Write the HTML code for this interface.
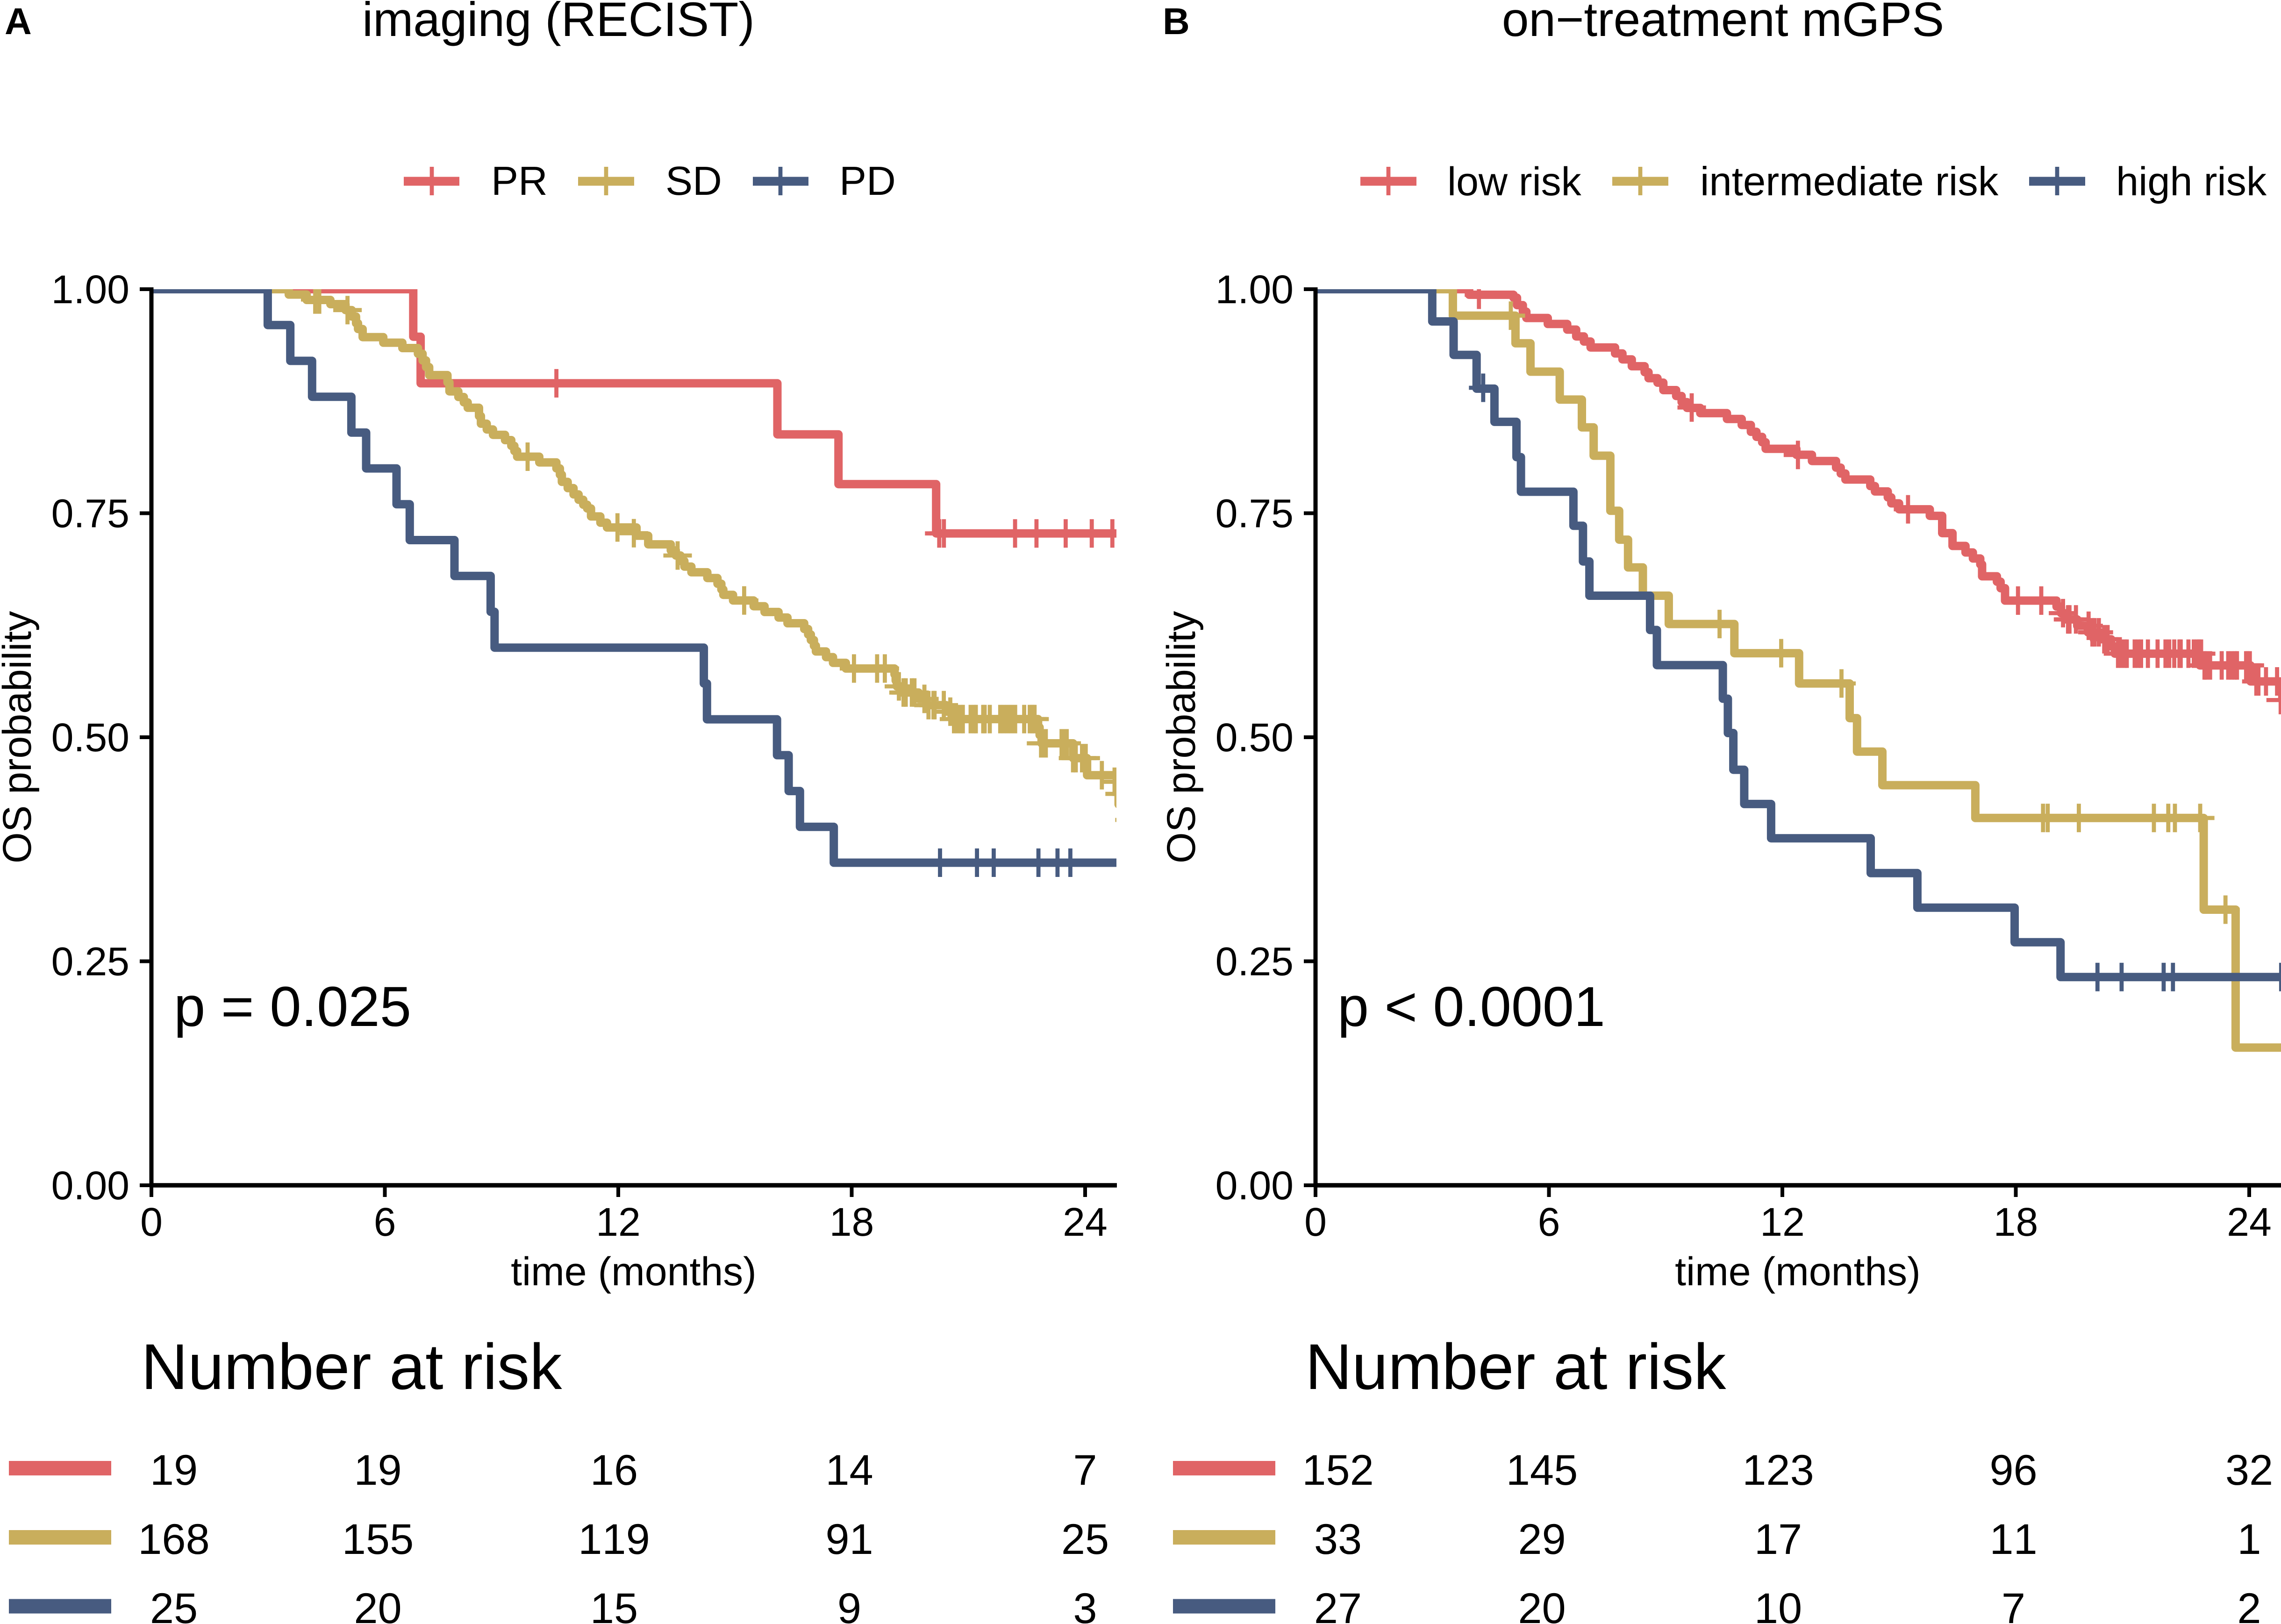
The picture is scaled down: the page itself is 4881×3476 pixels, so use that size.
<!DOCTYPE html>
<html lang="en">
<head>
<meta charset="utf-8">
<title>Overall survival by RECIST and on-treatment mGPS</title>
<style>
html,body{margin:0;padding:0;background:#fff;}
svg{display:block;font-family:"Liberation Sans",Arial,sans-serif;fill:#000;font-kerning:none;text-rendering:geometricPrecision;}
</style>
</head>
<body>
<svg id="figure" xmlns="http://www.w3.org/2000/svg" width="4881" height="3476" viewBox="0 0 4881 3476">
  <rect x="0" y="0" width="4881" height="3476" fill="#ffffff"/>
  <defs>
    <clipPath id="clip-a"><rect x="324" y="619" width="2065" height="1918"/></clipPath>
    <clipPath id="clip-b"><rect x="2815" y="619" width="2066" height="1918"/></clipPath>
  </defs>

  <g id="panel-a">
    <text x="10" y="73" font-size="80" font-weight="bold">A</text>
    <text x="1195" y="77" font-size="103.5" text-anchor="middle">imaging (RECIST)</text>
    <g>
      <g>
        <path d="M864 388H983" stroke="#E06466" stroke-width="19" fill="none"/>
        <path d="M924 357V418" stroke="#E06466" stroke-width="8.7" fill="none"/>
        <text x="1051" y="417" font-size="87">PR</text>
      </g>
      <g>
        <path d="M1237 388H1357" stroke="#C9AE5C" stroke-width="19" fill="none"/>
        <path d="M1297 357V418" stroke="#C9AE5C" stroke-width="8.7" fill="none"/>
        <text x="1424" y="417" font-size="87">SD</text>
      </g>
      <g>
        <path d="M1611 388H1730" stroke="#475B80" stroke-width="19" fill="none"/>
        <path d="M1670 357V418" stroke="#475B80" stroke-width="8.7" fill="none"/>
        <text x="1796" y="417" font-size="87">PD</text>
      </g>
    </g>
    <g id="plot-a"></g>
    <text x="372" y="2196" font-size="121">p = 0.025</text>
    <text transform="translate(66 1578) rotate(-90)" font-size="86" text-anchor="middle">OS probability</text>
    <text x="1356" y="2751" font-size="86" text-anchor="middle">time (months)</text>
    <text x="302" y="2973" font-size="138.5">Number at risk</text>
    <g id="risk-a"></g>
  </g>

  <g id="panel-b">
    <text x="2488" y="73" font-size="80" font-weight="bold">B</text>
    <text x="3687" y="77" font-size="103.5" text-anchor="middle">on−treatment mGPS</text>
    <g>
      <g>
        <path d="M2911 388H3031" stroke="#E06466" stroke-width="19" fill="none"/>
        <path d="M2971 357V418" stroke="#E06466" stroke-width="8.7" fill="none"/>
        <text x="3097" y="418" font-size="86">low risk</text>
      </g>
      <g>
        <path d="M3450 388H3570" stroke="#C9AE5C" stroke-width="19" fill="none"/>
        <path d="M3510 357V418" stroke="#C9AE5C" stroke-width="8.7" fill="none"/>
        <text x="3638" y="418" font-size="87">intermediate risk</text>
      </g>
      <g>
        <path d="M4342 388H4462" stroke="#475B80" stroke-width="19" fill="none"/>
        <path d="M4402 357V418" stroke="#475B80" stroke-width="8.7" fill="none"/>
        <text x="4528" y="418" font-size="86.5">high risk</text>
      </g>
    </g>
    <g id="plot-b"></g>
    <text x="2862" y="2196" font-size="120.5">p &lt; 0.0001</text>
    <text transform="translate(2557 1578) rotate(-90)" font-size="86" text-anchor="middle">OS probability</text>
    <text x="3847" y="2751" font-size="86" text-anchor="middle">time (months)</text>
    <text x="2793" y="2973" font-size="138.5">Number at risk</text>
    <g id="risk-b"></g>
  </g>
</svg>

<script>
/* ---------- axis data ---------- */
const monthTicks = [0, 6, 12, 18, 24];
const monthTickLabels = ['0', '6', '12', '18', '24'];
const probTicks = [0, 0.25, 0.5, 0.75, 1];
const probTickLabels = ['0.00', '0.25', '0.50', '0.75', '1.00'];

/* ---------- panel A: PR ---------- */
const prTimes = [6.73, 6.92, 16.09, 17.66, 20.17];
const prSurv = [0.947, 0.895, 0.838, 0.7825, 0.7275];
const prCensorTimes = [10.41, 20.25, 20.37, 22.2, 22.75, 23.5, 24.17, 24.7];
const prCensorSurv = [0.895, 0.7275, 0.7275, 0.7275, 0.7275, 0.7275, 0.7275, 0.7275];

/* ---------- panel A: SD ---------- */
const sdTimes = [3.53, 3.99, 4.60, 4.99, 5.15, 5.26, 5.31, 5.43, 5.96, 6.45, 6.85, 6.97, 7.06, 7.14, 7.61, 7.66, 7.89, 8.03, 8.13, 8.42, 8.47, 8.62, 8.78, 9.09, 9.25, 9.33, 9.40, 9.97, 10.41, 10.50, 10.55, 10.70, 10.85, 10.98, 11.10, 11.20, 11.30, 11.54, 11.71, 12.47, 12.77, 13.35, 13.48, 13.60, 13.70, 13.88, 14.29, 14.55, 14.65, 14.70, 14.95, 15.48, 15.76, 16.12, 16.35, 16.78, 16.88, 16.95, 17.03, 17.08, 17.34, 17.52, 17.85, 19.10, 19.13, 19.16, 19.29, 19.72, 19.91, 20.43, 20.57, 22.79, 22.83, 22.88, 23.69, 24.05, 24.86];
const sdSurv = [0.994, 0.988, 0.9833, 0.9767, 0.9695, 0.962, 0.9556, 0.9465, 0.9403, 0.9343, 0.928, 0.9205, 0.9131, 0.9041, 0.896, 0.886, 0.8797, 0.8737, 0.8677, 0.8584, 0.8499, 0.8435, 0.8375, 0.8316, 0.8252, 0.8194, 0.8131, 0.8067, 0.800, 0.793, 0.785, 0.778, 0.771, 0.765, 0.7595, 0.7553, 0.7464, 0.7394, 0.7341, 0.7249, 0.7153, 0.7085, 0.7028, 0.6966, 0.6904, 0.6841, 0.6777, 0.6713, 0.6649, 0.6589, 0.6526, 0.6462, 0.6398, 0.6336, 0.6272, 0.6208, 0.6147, 0.6085, 0.6021, 0.5957, 0.5894, 0.583, 0.5767, 0.5702, 0.5633, 0.5568, 0.5499, 0.5428, 0.5358, 0.5285, 0.5203, 0.5111, 0.5024, 0.4932, 0.4767, 0.4576, 0.4251];
const sdCensorTimes = [4.21, 4.315, 5.04, 9.67, 11.98, 12.40, 13.525, 15.236, 18.059, 18.653, 18.852, 19.213, 19.332, 19.389, 19.546, 19.613, 19.869, 19.973, 20.102, 20.13, 20.368, 20.534, 20.629, 20.719, 20.814, 20.857, 21.057, 21.147, 21.19, 21.38, 21.418, 21.55, 21.817, 21.907, 22.002, 22.097, 22.202, 22.434, 22.577, 22.634, 22.667, 22.70, 22.867, 22.938, 22.99, 23.394, 23.475, 23.527, 23.689, 23.76, 23.921, 24.016, 24.43, 24.757, 24.886, 25.14];
const sdCensorSurv = [0.9885, 0.9885, 0.9767, 0.8131, 0.7341, 0.7277, 0.7028, 0.6526, 0.5767, 0.5767, 0.5767, 0.5568, 0.5499, 0.5499, 0.5499, 0.5499, 0.5428, 0.5358, 0.5358, 0.5358, 0.5358, 0.5285, 0.5203, 0.5203, 0.5203, 0.5203, 0.5203, 0.5203, 0.5203, 0.5203, 0.5203, 0.5203, 0.5203, 0.5203, 0.5203, 0.5203, 0.5203, 0.5203, 0.5203, 0.5203, 0.5203, 0.5203, 0.4932, 0.4932, 0.4932, 0.4932, 0.4932, 0.4932, 0.4767, 0.4767, 0.4767, 0.4767, 0.4576, 0.4503, 0.4368, 0.4077];

/* ---------- panel A: PD ---------- */
const pdTimes = [2.99, 3.57, 4.13, 5.14, 5.52, 6.30, 6.64, 7.79, 8.72, 8.82, 14.2, 14.28, 16.08, 16.38, 16.67, 17.54];
const pdSurv = [0.96, 0.92, 0.88, 0.84, 0.80, 0.76, 0.72, 0.68, 0.64, 0.60, 0.56, 0.52, 0.48, 0.44, 0.40, 0.36];
const pdCensorTimes = [20.27, 21.22, 21.65, 22.8, 23.29, 23.62];
const pdCensorSurv = [0.36, 0.36, 0.36, 0.36, 0.36, 0.36];

/* ---------- panel B: low risk ---------- */
const lowTimes = [3.95, 5.09, 5.18, 5.33, 5.42, 5.97, 6.47, 6.70, 6.90, 7.07, 7.70, 7.89, 8.13, 8.46, 8.56, 8.79, 8.94, 9.27, 9.41, 9.55, 9.89, 10.575, 10.955, 11.19, 11.335, 11.48, 11.57, 12.36, 12.76, 13.38, 13.5, 13.62, 14.26, 14.38, 14.71, 14.8, 15.0, 15.79, 16.108, 16.374, 16.707, 16.897, 17.087, 17.134, 17.515, 17.61, 17.724, 19.048, 19.163, 19.255, 19.578, 19.854, 20.176, 20.452, 20.545, 22.732, 24.035, 24.85];
const lowSurv = [0.9938, 0.9905, 0.9822, 0.9749, 0.9679, 0.9612, 0.9549, 0.9473, 0.9416, 0.935, 0.9283, 0.9217, 0.914, 0.9074, 0.9007, 0.8957, 0.8874, 0.8808, 0.874, 0.8675, 0.8617, 0.8552, 0.8485, 0.8408, 0.8352, 0.8292, 0.8219, 0.8152, 0.8083, 0.8009, 0.7943, 0.7876, 0.7803, 0.7743, 0.7677, 0.761, 0.7544, 0.7471, 0.7278, 0.7135, 0.7062, 0.6995, 0.6929, 0.6796, 0.6736, 0.6663, 0.6525, 0.6458, 0.6385, 0.6315, 0.6244, 0.6171, 0.6094, 0.6014, 0.5933, 0.5802, 0.5623, 0.5415];
const lowCensorTimes = [4.2, 9.67, 12.4, 15.23, 18.056, 18.655, 19.214, 19.343, 19.38, 19.546, 19.872, 19.969, 20.024, 20.135, 20.273, 20.36, 20.627, 20.715, 20.807, 20.853, 21.056, 21.143, 21.221, 21.396, 21.645, 21.848, 21.944, 22.073, 22.207, 22.239, 22.437, 22.575, 22.662, 22.713, 22.764, 22.851, 22.893, 22.994, 23.293, 23.459, 23.546, 23.629, 23.685, 23.919, 23.956, 24.016, 24.182, 24.237, 24.431, 24.716, 24.808];
const lowCensorSurv = [0.9938, 0.868, 0.815, 0.7544, 0.6525, 0.6525, 0.6385, 0.6315, 0.6315, 0.6315, 0.6244, 0.6171, 0.6171, 0.6171, 0.6094, 0.6094, 0.5933, 0.5933, 0.5933, 0.5933, 0.5933, 0.5933, 0.5933, 0.5933, 0.5933, 0.5933, 0.5933, 0.5933, 0.5933, 0.5933, 0.5933, 0.5933, 0.5933, 0.5933, 0.5933, 0.5802, 0.5802, 0.5802, 0.5802, 0.5802, 0.5802, 0.5802, 0.5802, 0.5802, 0.5802, 0.5802, 0.5623, 0.5623, 0.5623, 0.5623, 0.5415];

/* ---------- panel B: intermediate risk ---------- */
const midTimes = [3.53, 5.14, 5.525, 6.277, 6.847, 7.15, 7.578, 7.806, 8.034, 8.415, 9.08, 10.766, 12.43, 13.73, 13.92, 14.57, 16.96, 22.83, 23.65];
const midSurv = [0.9705, 0.9396, 0.908, 0.8768, 0.8458, 0.8142, 0.7527, 0.7205, 0.6895, 0.658, 0.6264, 0.5938, 0.56, 0.5213, 0.484, 0.4465, 0.4099, 0.3076, 0.1537];
const midCensorTimes = [5.02, 10.385, 11.97, 13.52, 18.7, 18.82, 19.62, 21.55, 21.92, 22.09, 22.74, 23.39];
const midCensorSurv = [0.9705, 0.6264, 0.5938, 0.56, 0.4099, 0.4099, 0.4099, 0.4099, 0.4099, 0.4099, 0.4099, 0.3076];

/* ---------- panel B: high risk ---------- */
const highTimes = [3.0, 3.55, 4.14, 4.6, 5.165, 5.28, 6.63, 6.875, 7.04, 8.6, 8.775, 10.47, 10.6, 10.74, 11.02, 11.71, 14.27, 15.47, 17.97, 19.15];
const highSurv = [0.964, 0.9267, 0.889, 0.852, 0.8126, 0.774, 0.736, 0.6962, 0.658, 0.6197, 0.5805, 0.543, 0.5047, 0.4637, 0.4255, 0.3873, 0.3484, 0.3098, 0.2712, 0.2324];
const highCensorTimes = [4.31, 20.1, 20.72, 21.8, 22.04, 24.82];
const highCensorSurv = [0.89, 0.2324, 0.2324, 0.2324, 0.2324, 0.2324];

/* ---------- numbers at risk ---------- */
const riskPR = [19, 19, 16, 14, 7];
const riskSD = [168, 155, 119, 91, 25];
const riskPD = [25, 20, 15, 9, 3];
const riskLow = [152, 145, 123, 96, 32];
const riskMid = [33, 29, 17, 11, 1];
const riskHigh = [27, 20, 10, 7, 2];

/* ---------- layout (not data) ---------- */
const SVG_NS = 'http://www.w3.org/2000/svg';
const RED = '#E06466', TAN = '#C9AE5C', BLUE = '#475B80';
const PLOT_TOP = 619, PLOT_BOTTOM = 2537, PER_MONTH = 83.25, PLOT_WIDTH = 2065;
const riskNudge = [48, -15, -9, -5, 0];
const riskRowText = [3178, 3326, 3474];
const riskRowBar = [3142.5, 3290.5, 3438];

function yScale(p) { return PLOT_BOTTOM - p * (PLOT_BOTTOM - PLOT_TOP); }
function xScale(x0, t) { return x0 + t * PER_MONTH; }

function stepPath(x0, times, surv) {
  let d = 'M' + xScale(x0, 0) + ' ' + yScale(1);
  for (let i = 0; i < times.length; i++) {
    d += 'H' + xScale(x0, times[i]).toFixed(1) + 'V' + yScale(surv[i]).toFixed(1);
  }
  d += 'H' + xScale(x0, 26).toFixed(1);
  return d;
}

function drawSeries(host, x0, key, color, times, surv) {
  const el = document.createElementNS(SVG_NS, 'path');
  
  
  el.setAttribute('d', stepPath(x0, times, surv));
  el.setAttribute('fill', 'none');
  el.setAttribute('stroke', color);
  el.setAttribute('stroke-width', '18');
  el.setAttribute('stroke-linejoin', 'round');
  host.appendChild(el);
}

function drawCensors(host, x0, key, color, times, surv) {
  for (let i = 0; i < times.length; i++) {
    const cx = xScale(x0, times[i]), cy = yScale(surv[i]);
    const el = document.createElementNS(SVG_NS, 'path');
    
    
    el.setAttribute('d', 'M' + (cx - 30.5).toFixed(1) + ' ' + cy.toFixed(1) + 'h61M' + cx.toFixed(1) + ' ' + (cy - 30.5).toFixed(1) + 'v61');
    el.setAttribute('fill', 'none');
    el.setAttribute('stroke', color);
    el.setAttribute('stroke-width', '8.8');
    host.appendChild(el);
  }
}

function drawAxes(host, x0, prefix) {
  for (let i = 0; i < probTicks.length; i++) {
    const y = yScale(probTicks[i]);
    const tick = document.createElementNS(SVG_NS, 'path');
    
    
    tick.setAttribute('d', 'M' + (x0 - 25) + ' ' + y + 'H' + x0);
    tick.setAttribute('stroke', '#000');
    tick.setAttribute('stroke-width', '8');
    host.appendChild(tick);
    const label = document.createElementNS(SVG_NS, 'text');
    
    
    label.setAttribute('x', x0 - 47);
    label.setAttribute('y', y + 30);
    label.setAttribute('font-size', '86');
    label.setAttribute('text-anchor', 'end');
    label.textContent = probTickLabels[i];
    host.appendChild(label);
  }
  for (let i = 0; i < monthTicks.length; i++) {
    const x = xScale(x0, monthTicks[i]);
    const tick = document.createElementNS(SVG_NS, 'path');
    
    
    tick.setAttribute('d', 'M' + x + ' ' + PLOT_BOTTOM + 'V' + (PLOT_BOTTOM + 25));
    tick.setAttribute('stroke', '#000');
    tick.setAttribute('stroke-width', '8');
    host.appendChild(tick);
    const label = document.createElementNS(SVG_NS, 'text');
    
    
    label.setAttribute('x', x);
    label.setAttribute('y', 2645);
    label.setAttribute('font-size', '86');
    label.setAttribute('text-anchor', 'middle');
    label.textContent = monthTickLabels[i];
    host.appendChild(label);
  }
  const yAxis = document.createElementNS(SVG_NS, 'path');
  
  
  yAxis.setAttribute('d', 'M' + x0 + ' ' + (PLOT_TOP - 4) + 'V' + (PLOT_BOTTOM + 4));
  yAxis.setAttribute('stroke', '#000');
  yAxis.setAttribute('stroke-width', '9');
  host.appendChild(yAxis);
  const xAxis = document.createElementNS(SVG_NS, 'path');
  
  
  xAxis.setAttribute('d', 'M' + (x0 - 4) + ' ' + PLOT_BOTTOM + 'H' + (x0 + PLOT_WIDTH + 1));
  xAxis.setAttribute('stroke', '#000');
  xAxis.setAttribute('stroke-width', '9.5');
  host.appendChild(xAxis);
}

function drawRisk(host, x0, rowIndex, key, color, values) {
  const bar = document.createElementNS(SVG_NS, 'path');
  
  
  bar.setAttribute('d', 'M' + (x0 - 305) + ' ' + riskRowBar[rowIndex] + 'h219');
  bar.setAttribute('stroke', color);
  bar.setAttribute('stroke-width', '31');
  host.appendChild(bar);
  for (let i = 0; i < values.length; i++) {
    const label = document.createElementNS(SVG_NS, 'text');
    
    
    label.setAttribute('x', xScale(x0, monthTicks[i]) + riskNudge[i]);
    label.setAttribute('y', riskRowText[rowIndex]);
    label.setAttribute('font-size', '92');
    label.setAttribute('text-anchor', 'middle');
    label.textContent = values[i];
    host.appendChild(label);
  }
}

function clipGroup(host, clipId, name) {
  const g = document.createElementNS(SVG_NS, 'g');
  
  
  g.setAttribute('clip-path', 'url(#' + clipId + ')');
  host.appendChild(g);
  return g;
}

/* ---------- panel A ---------- */
const plotA = document.getElementById('plot-a');
const marksA = clipGroup(plotA, 'clip-a', 'panel-a-marks');
drawSeries(marksA, 324, 'pr', RED, prTimes, prSurv);
drawSeries(marksA, 324, 'sd', TAN, sdTimes, sdSurv);
drawSeries(marksA, 324, 'pd', BLUE, pdTimes, pdSurv);
drawCensors(marksA, 324, 'pr', RED, prCensorTimes, prCensorSurv);
drawCensors(marksA, 324, 'sd', TAN, sdCensorTimes, sdCensorSurv);
drawCensors(marksA, 324, 'pd', BLUE, pdCensorTimes, pdCensorSurv);
drawAxes(plotA, 324, 'panel-a');
const riskA = document.getElementById('risk-a');
drawRisk(riskA, 324, 0, 'pr', RED, riskPR);
drawRisk(riskA, 324, 1, 'sd', TAN, riskSD);
drawRisk(riskA, 324, 2, 'pd', BLUE, riskPD);

/* ---------- panel B ---------- */
const plotB = document.getElementById('plot-b');
const marksB = clipGroup(plotB, 'clip-b', 'panel-b-marks');
drawSeries(marksB, 2815, 'low-risk', RED, lowTimes, lowSurv);
drawSeries(marksB, 2815, 'intermediate-risk', TAN, midTimes, midSurv);
drawSeries(marksB, 2815, 'high-risk', BLUE, highTimes, highSurv);
drawCensors(marksB, 2815, 'low-risk', RED, lowCensorTimes, lowCensorSurv);
drawCensors(marksB, 2815, 'intermediate-risk', TAN, midCensorTimes, midCensorSurv);
drawCensors(marksB, 2815, 'high-risk', BLUE, highCensorTimes, highCensorSurv);
drawAxes(plotB, 2815, 'panel-b');
const riskB = document.getElementById('risk-b');
drawRisk(riskB, 2815, 0, 'low-risk', RED, riskLow);
drawRisk(riskB, 2815, 1, 'intermediate-risk', TAN, riskMid);
drawRisk(riskB, 2815, 2, 'high-risk', BLUE, riskHigh);
</script>
</body>
</html>
